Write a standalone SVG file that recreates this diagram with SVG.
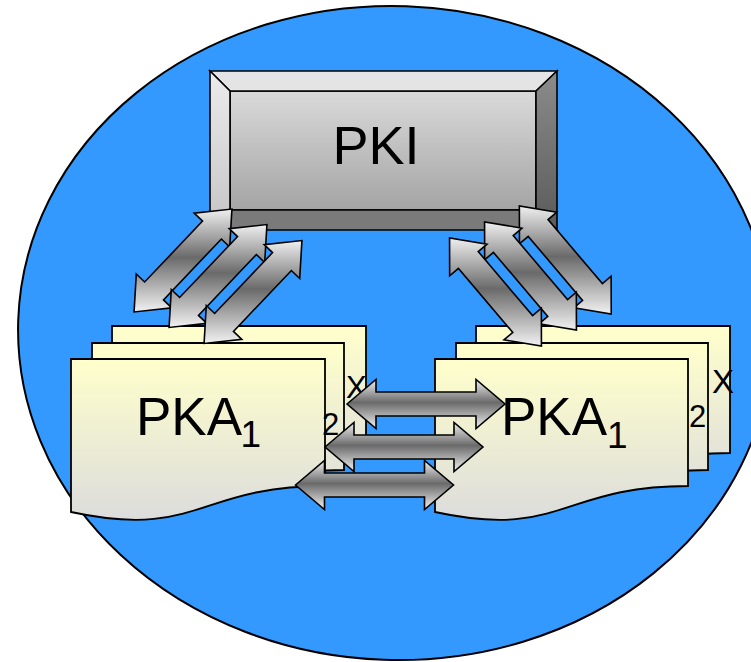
<svg xmlns="http://www.w3.org/2000/svg" xmlns:xlink="http://www.w3.org/1999/xlink" width="751" height="662" viewBox="0 0 751 662">
<style>
.ol{stroke:#000;stroke-width:1.6;stroke-linejoin:miter}
.lbl{font-family:"Liberation Sans",Arial,sans-serif;fill:#000}
.sheet{fill:url(#sheetGrad);stroke:#000;stroke-width:1.8}
</style>
<defs>
<linearGradient id="sheetGrad" x1="0" y1="0" x2="0" y2="1">
<stop offset="0" stop-color="#ffffcc"/>
<stop offset="1" stop-color="#dcdcdc"/>
</linearGradient>
<linearGradient id="arrowGrad" x1="0" y1="0" x2="0" y2="1">
<stop offset="0" stop-color="#f0f0f0"/>
<stop offset="0.47" stop-color="#6a6a6a"/>
<stop offset="1" stop-color="#f2f2f2"/>
</linearGradient>
<linearGradient id="faceGrad" x1="0" y1="0" x2="0" y2="1">
<stop offset="0" stop-color="#dadada"/>
<stop offset="1" stop-color="#a4a4a4"/>
</linearGradient>
<linearGradient id="leftBevel" x1="0" y1="0" x2="0" y2="1">
<stop offset="0" stop-color="#ececec"/>
<stop offset="1" stop-color="#c4c4c4"/>
</linearGradient>
<linearGradient id="rightBevel" x1="0" y1="0" x2="0" y2="1">
<stop offset="0" stop-color="#8c8c8c"/>
<stop offset="1" stop-color="#5a5a5a"/>
</linearGradient>
<polygon id="harrow" class="ol" fill="url(#arrowGrad)" points="-79,0 -50,-24.5 -50,-12 50,-12 50,-24.5 79,0 50,24.5 50,12 -50,12 -50,24.5"/>
<polygon id="darrowL" class="ol" fill="url(#arrowGrad)" points="-48.93,51.43 -46.70,13.53 -38.37,21.46 19.53,-39.38 11.20,-47.31 48.93,-51.43 46.70,-13.53 38.37,-21.46 -19.53,39.38 -11.20,47.31"/>
<polygon id="darrowR" class="ol" fill="url(#arrowGrad)" points="-45.93,-54.12 -45.84,-16.16 -37.08,-23.60 17.26,40.42 8.50,47.86 45.93,54.12 45.84,16.16 37.08,23.60 -17.26,-40.42 -8.50,-47.86"/>
</defs>

<g id="background">
<ellipse cx="395" cy="333" rx="377" ry="327" transform="rotate(2 395 333)" fill="#3399ff" stroke="#000" stroke-width="2"/>
</g>

<g id="pki">
<rect x="230" y="91" width="306" height="119" fill="url(#faceGrad)" class="ol"/>
<polygon points="210,71 557,71 536,91 230,91" fill="#e4e4e4" class="ol"/>
<polygon points="210,71 230,91 230,210 210,230" fill="url(#leftBevel)" class="ol"/>
<polygon points="557,71 557,230 536,210 536,91" fill="url(#rightBevel)" class="ol"/>
<polygon points="210,230 230,210 536,210 557,230" fill="#7a7a7a" class="ol"/>
<text class="lbl" x="376" y="164" font-size="54" text-anchor="middle">PKI</text>
</g>

<g id="pka-left">
<path class="sheet" d="M112,326 H366 V453 C239,453 239,506.5 112,479 Z"/>
<path class="sheet" d="M92,343 H344 V470 C218,470 218,523.5 92,496 Z"/>
<path class="sheet" d="M71,359 H325 V486 C198,486 198,539.5 71,512 Z"/>
<text class="lbl" x="136" y="435" font-size="53">PKA</text>
<text class="lbl" x="240.5" y="447" font-size="37">1</text>
<text class="lbl" x="322" y="435" font-size="31">2</text>
<text class="lbl" x="346" y="398" font-size="31">X</text>
</g>

<g id="pka-right">
<path class="sheet" d="M476,326 H730 V453 C603,453 603,506.5 476,479 Z"/>
<path class="sheet" d="M456,343 H708 V470 C582,470 582,523.5 456,496 Z"/>
<path class="sheet" d="M435,359 H688 V486 C561.5,486 561.5,539.5 435,512 Z"/>
<text class="lbl" x="501" y="435" font-size="53">PKA</text>
<text class="lbl" x="607" y="448" font-size="37">1</text>
<text class="lbl" x="689" y="427" font-size="31">2</text>
<text class="lbl" x="712" y="393" font-size="33">X</text>
</g>

<g id="connectors">
<use xlink:href="#harrow" x="426" y="404"/>
<use xlink:href="#harrow" x="404" y="447"/>
<use xlink:href="#harrow" x="374.5" y="485"/>
<use xlink:href="#darrowL" x="183" y="260.5"/>
<use xlink:href="#darrowL" x="218" y="276"/>
<use xlink:href="#darrowL" x="253" y="292"/>
<use xlink:href="#darrowR" x="565.3" y="260"/>
<use xlink:href="#darrowR" x="530.5" y="276"/>
<use xlink:href="#darrowR" x="495.5" y="292"/>
</g>
</svg>
